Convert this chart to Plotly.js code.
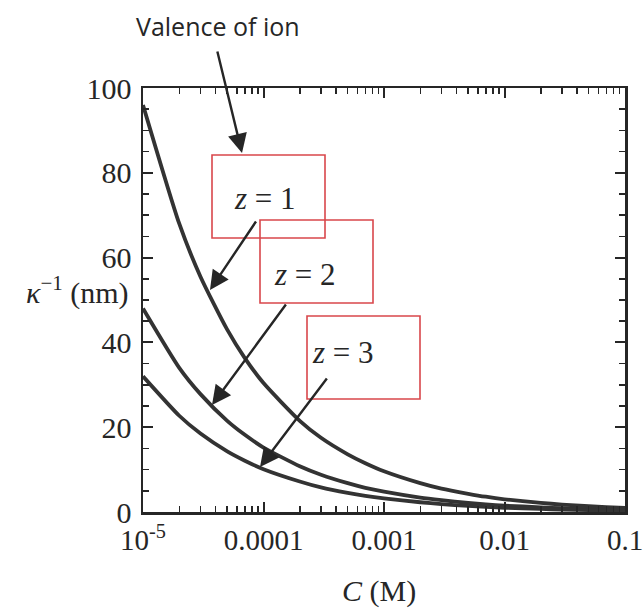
<!DOCTYPE html>
<html>
<head>
<meta charset="utf-8">
<script src="https://cdn.plot.ly/plotly-3.0.1.min.js"></script>
<style>html,body{margin:0;padding:0;background:#fff;}#chart{width:643px;height:612px;}</style>
</head>
<body>
<div id="chart"></div>
<script>
// Concentration (M)
var concentration = [1e-5, 2e-5, 3e-5, 5e-5, 7e-5, 1e-4, 2e-4, 3e-4, 5e-4, 7e-4, 1e-3, 2e-3, 3e-3, 5e-3, 7e-3, 0.01, 0.02, 0.03, 0.05, 0.07, 0.1];
// Debye length kappa^-1 (nm)
var debyeZ1 = [96, 68, 55.5, 43, 36.3, 30.4, 21.5, 17.5, 13.6, 11.5, 9.6, 6.8, 5.5, 4.3, 3.6, 3.0, 2.15, 1.75, 1.36, 1.15, 0.96];
var debyeZ2 = [48, 34, 27.8, 21.5, 18.2, 15.2, 10.8, 8.8, 6.8, 5.7, 4.8, 3.4, 2.8, 2.15, 1.8, 1.5, 1.1, 0.88, 0.68, 0.57, 0.48];
var debyeZ3 = [32, 22.7, 18.5, 14.3, 12.1, 10.1, 7.2, 5.8, 4.5, 3.8, 3.2, 2.3, 1.85, 1.43, 1.2, 1.0, 0.72, 0.58, 0.45, 0.38, 0.32];
var seriesNames = ['z = 1', 'z = 2', 'z = 3'];
var xTickVals = [1e-5, 1e-4, 1e-3, 1e-2, 1e-1];
var xTickText = ['10<sup>-5</sup>', '0.0001', '0.001', '0.01', '0.1'];
var yTickVals = [0, 20, 40, 60, 80, 100];

// plot-area pixel helpers for layout decorations
var L = 143, R = 625, T = 88, B = 512;
function px(x) { return (x - L) / (R - L); }
function py(y) { return (B - y) / (B - T); }

var serif = 'Liberation Serif, Times New Roman, serif';
var ink = '#262626';

var traces = [debyeZ1, debyeZ2, debyeZ3].map(function (ys, i) {
  return {
    x: concentration, y: ys, name: seriesNames[i], type: 'scatter', mode: 'lines',
    line: {color: '#333333', width: 3.8, shape: 'spline', smoothing: 0.6},
    showlegend: false, hoverinfo: 'x+y'
  };
});

function box(x0, y0, x1, y1) {
  return {type: 'rect', xref: 'paper', yref: 'paper', x0: px(x0), x1: px(x1), y0: py(y1), y1: py(y0),
    line: {color: '#d9474b', width: 1.6}, fillcolor: 'rgba(0,0,0,0)'};
}
function arrow(tipX, tipY, startX, startY) {
  return {xref: 'paper', yref: 'paper', x: px(tipX), y: py(tipY), ax: startX - tipX, ay: startY - tipY,
    text: '', showarrow: true, arrowhead: 2, arrowsize: 1.6, arrowwidth: 2.4, arrowcolor: ink,
    standoff: 0, startstandoff: 0};
}
function label(txt, cx, cy, size, fam, xanchor) {
  return {xref: 'paper', yref: 'paper', x: px(cx), y: py(cy), text: txt, showarrow: false,
    xanchor: xanchor || 'center', yanchor: 'middle', font: {family: fam || serif, size: size || 28, color: ink}};
}

var layout = {
  width: 643, height: 612,
  margin: {l: L, r: 643 - R, t: T, b: 612 - B},
  paper_bgcolor: '#ffffff', plot_bgcolor: '#ffffff',
  xaxis: {
    type: 'log', range: [-5, -1], tickvals: xTickVals, ticktext: xTickText,
    ticks: 'inside', ticklen: 10, tickwidth: 2, tickcolor: ink,
    showline: true, linecolor: ink, linewidth: 2.5, mirror: 'ticks',
    showgrid: false, zeroline: false, ticklabelstandoff: 1, ticklabeloverflow: 'allow',
    tickfont: {family: serif, size: 29, color: ink},
    minor: {ticks: 'inside', ticklen: 6, tickwidth: 1.5, tickcolor: ink, dtick: 'D1', showgrid: false}
  },
  yaxis: {
    range: [0, 100], tickvals: yTickVals,
    ticks: 'inside', ticklen: 10, tickwidth: 2, tickcolor: ink,
    showline: true, linecolor: ink, linewidth: 2.5, mirror: 'ticks',
    showgrid: false, zeroline: false, ticklabelstandoff: 3,
    tickfont: {family: serif, size: 30, color: ink},
    minor: {ticks: 'inside', ticklen: 6, tickwidth: 1.5, tickcolor: ink, dtick: 5, showgrid: false}
  },
  shapes: [
    box(212, 155, 325, 238),
    box(260, 220, 373, 303),
    box(307, 316, 420, 399)
  ],
  annotations: [
    label('Valence of ion', 218, 26, 25, 'Open Sans, Liberation Sans, sans-serif'),
    arrow(242, 153, 217, 50),
    label('<i>z</i> = 1', 265, 198, 31),
    label('<i>z</i> = 2', 305, 274, 31),
    label('<i>z</i> = 3', 343, 352, 31),
    arrow(210, 290, 257, 220),
    arrow(212, 405, 287, 303),
    arrow(260, 467, 328, 377),
    label('<i>κ</i><sup>−1</sup> (nm)', 131, 290, 30, serif, 'right'),
    label('<i>C</i> (M)', 379, 591, 30)
  ]
};

Plotly.newPlot('chart', traces, layout, {staticPlot: true, displayModeBar: false});
</script>
</body>
</html>
